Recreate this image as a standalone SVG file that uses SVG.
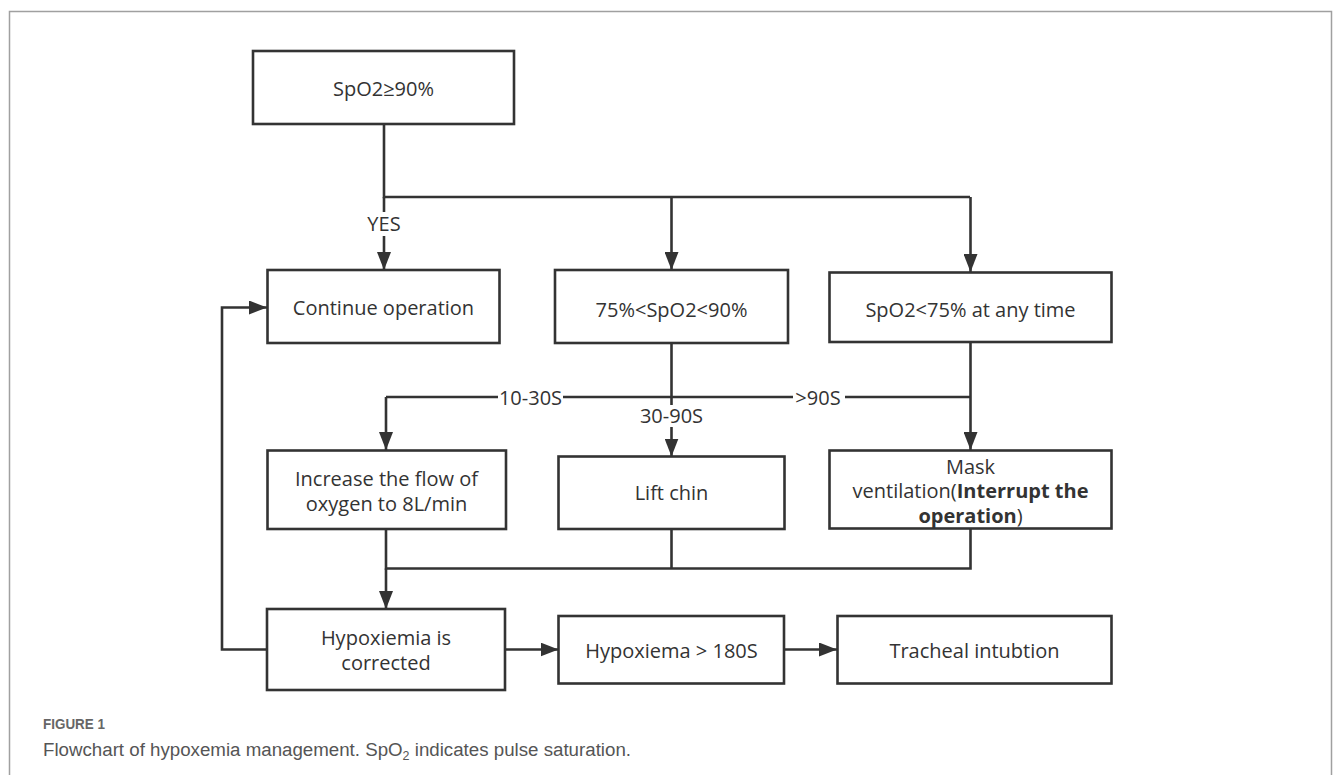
<svg xmlns="http://www.w3.org/2000/svg" width="1333" height="775" viewBox="0 0 1333 775">
<style>
.box{fill:#fff;stroke:#333;stroke-width:2.6}
.ln{fill:none;stroke:#333;stroke-width:2.6}
.t{font-family:"Open Sans","Noto Sans",sans-serif;font-size:20px;fill:#333;text-anchor:middle}
.b{font-weight:bold}
.bg{fill:#fff}
.cap1{font-family:"Liberation Sans",Arial,sans-serif;font-size:14px;fill:#666;font-weight:bold}
.cap2{font-family:"Liberation Sans",Arial,sans-serif;font-size:18px;fill:#555}
</style>
<defs>
<marker id="ah" markerUnits="userSpaceOnUse" markerWidth="18" markerHeight="14" refX="18" refY="7" orient="auto">
<path d="M0,0 L18,7 L0,14 z" fill="#333"/>
</marker>
</defs>
<rect width="1333" height="775" fill="#fff"/>
<path d="M9.5,775 V11.5 H1331.5 V775" fill="none" stroke="#a0a0a0" stroke-width="1.5"/>

<g id="connectors">
<path class="ln" d="M384,124 V197 H970"/>
<path class="ln" d="M384,197 V270" marker-end="url(#ah)"/>
<path class="ln" d="M671.5,197 V270" marker-end="url(#ah)"/>
<path class="ln" d="M970.5,197 V272" marker-end="url(#ah)"/>
<path class="ln" d="M671.5,343 V397"/>
<path class="ln" d="M386,397 H970.5"/>
<path class="ln" d="M386,397 V450" marker-end="url(#ah)"/>
<path class="ln" d="M671.5,397 V456.5" marker-end="url(#ah)"/>
<path class="ln" d="M970.5,342 V450" marker-end="url(#ah)"/>
<path class="ln" d="M386,529 V568.5 H970.5 V528"/>
<path class="ln" d="M671.5,529 V568.5"/>
<path class="ln" d="M386,568.5 V609" marker-end="url(#ah)"/>
<path class="ln" d="M267,649.5 H222 V307.5 H267" marker-end="url(#ah)"/>
<path class="ln" d="M505,649.5 H558.5" marker-end="url(#ah)"/>
<path class="ln" d="M784,649.5 H837" marker-end="url(#ah)"/>
<rect class="bg" x="365" y="212" width="38" height="24"/>
<text class="t" x="384" y="231">YES</text>
<rect class="bg" x="498" y="386" width="65" height="24"/>
<text class="t" x="530.5" y="404.5">10-30S</text>
<rect class="bg" x="793" y="386" width="52" height="24"/>
<text class="t" x="818" y="405">&gt;90S</text>
<rect class="bg" x="638" y="405" width="67" height="22"/>
<text class="t" x="671.5" y="422.5">30-90S</text>
</g>

<g id="n_spo2_90">
<rect class="box" x="253" y="51" width="261" height="73"/>
<text class="t" x="383.5" y="96">SpO2≥90%</text>
</g>
<g id="n_continue">
<rect class="box" x="267.5" y="270" width="232" height="73"/>
<text class="t" x="383.5" y="315">Continue operation</text>
</g>
<g id="n_75_90">
<rect class="box" x="555" y="270" width="233" height="73"/>
<text class="t" x="671.5" y="317">75%&lt;SpO2&lt;90%</text>
</g>
<g id="n_below75">
<rect class="box" x="829.5" y="272.5" width="282" height="69.5"/>
<text class="t" x="970.5" y="317">SpO2&lt;75% at any time</text>
</g>
<g id="n_increase">
<rect class="box" x="267.5" y="450.5" width="238.5" height="78.5"/>
<text class="t" x="386.5" y="485.5">Increase the flow of</text>
<text class="t" x="386.5" y="510.5">oxygen to 8L/min</text>
</g>
<g id="n_liftchin">
<rect class="box" x="558.5" y="456.5" width="226" height="72.5"/>
<text class="t" x="671.5" y="500">Lift chin</text>
</g>
<g id="n_mask">
<rect class="box" x="829.5" y="450.5" width="282" height="78"/>
<text class="t" x="970.5" y="474">Mask</text>
<text class="t" x="970.5" y="498">ventilation(<tspan class="b">Interrupt the</tspan></text>
<text class="t" x="970.5" y="523"><tspan class="b">operation</tspan>)</text>
</g>
<g id="n_corrected">
<rect class="box" x="267" y="609" width="238" height="81"/>
<text class="t" x="386" y="645">Hypoxiemia is</text>
<text class="t" x="386" y="670">corrected</text>
</g>
<g id="n_180s">
<rect class="box" x="558.5" y="616" width="225.5" height="67.5"/>
<text class="t" x="671.5" y="658">Hypoxiema &gt; 180S</text>
</g>
<g id="n_intubation">
<rect class="box" x="837.5" y="616" width="274" height="67.5"/>
<text class="t" x="974.5" y="658">Tracheal intubtion</text>
</g>

<g id="caption">
<text class="cap1" x="43" y="729" textLength="62" lengthAdjust="spacingAndGlyphs">FIGURE 1</text>
<text class="cap2" x="43" y="756" textLength="588" lengthAdjust="spacingAndGlyphs">Flowchart of hypoxemia management. SpO<tspan font-size="12" dy="4">2</tspan><tspan dy="-4"> indicates pulse saturation.</tspan></text>
</g>
</svg>
